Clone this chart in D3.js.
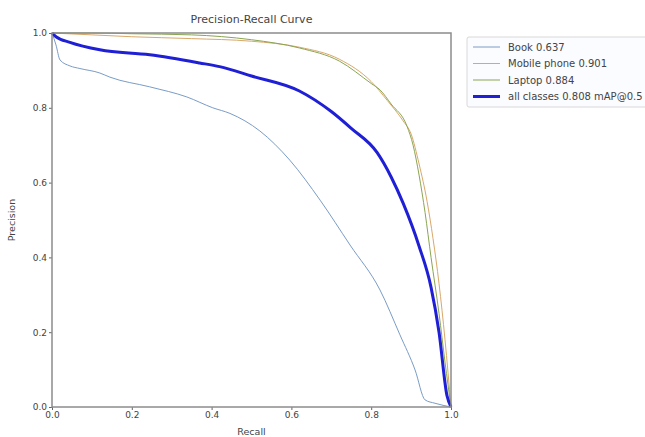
<!DOCTYPE html>
<html>
<head>
<meta charset="utf-8">
<script src="https://cdn.jsdelivr.net/npm/d3@7/dist/d3.min.js"></script>
<style>
  body { margin: 0; background: #fff; }
  text { font-family: "DejaVu Sans", sans-serif; fill: #444; }
</style>
</head>
<body>
<div id="chart"></div>
<script>
// recall / precision pairs
var bookRecall    = [0, 0.01, 0.02, 0.045, 0.07, 0.12, 0.145, 0.245, 0.338, 0.403, 0.446, 0.521, 0.596, 0.672, 0.747, 0.822, 0.872, 0.91, 0.935, 0.96, 1.0];
var bookPrecision = [1, 0.968, 0.928, 0.912, 0.905, 0.893, 0.882, 0.856, 0.829, 0.80, 0.785, 0.738, 0.66, 0.553, 0.433, 0.313, 0.193, 0.099, 0.019, 0.01, 0.0];

var phoneRecall    = [0, 0.1, 0.2, 0.35, 0.5, 0.62, 0.72, 0.8, 0.84, 0.88, 0.9, 0.92, 0.94, 0.955, 0.97, 0.985, 1.0];
var phonePrecision = [1, 0.995, 0.99, 0.985, 0.978, 0.962, 0.93, 0.87, 0.82, 0.765, 0.73, 0.65, 0.55, 0.45, 0.33, 0.18, 0.0];

var laptopRecall    = [0, 0.1, 0.2, 0.35, 0.5, 0.62, 0.72, 0.8, 0.822, 0.85, 0.89, 0.905, 0.92, 0.935, 0.95, 0.97, 0.985, 1.0];
var laptopPrecision = [1, 1.0, 0.998, 0.995, 0.982, 0.96, 0.925, 0.865, 0.848, 0.81, 0.75, 0.70, 0.62, 0.52, 0.40, 0.25, 0.12, 0.0];

var allRecall    = [0, 0.01, 0.045, 0.12, 0.245, 0.37, 0.42, 0.5, 0.62, 0.7, 0.75, 0.815, 0.85, 0.88, 0.92, 0.95, 0.97, 0.99, 1.0];
var allPrecision = [1, 0.99, 0.975, 0.955, 0.942, 0.92, 0.91, 0.885, 0.845, 0.79, 0.745, 0.68, 0.615, 0.545, 0.43, 0.32, 0.2, 0.03, 0.0];

var seriesNames  = ['Book 0.637', 'Mobile phone 0.901', 'Laptop 0.884', 'all classes 0.808 mAP@0.5'];
var seriesColors = ['#7a9cc6', '#d9a86a', '#8aa553', '#1f1fd6'];
var tickValues = [0, 0.2, 0.4, 0.6, 0.8, 1.0];

var width = 645, height = 437;
var margin = { top: 33, right: 194, bottom: 30, left: 52 };
var plotW = width - margin.left - margin.right;
var plotH = height - margin.top - margin.bottom;

var svg = d3.select('#chart')
    .append('svg')
    .attr('width', width)
    .attr('height', height);

var g = svg.append('g')
    .attr('transform', 'translate(' + margin.left + ',' + margin.top + ')');

var xScale = d3.scaleLinear().domain([0, 1]).range([0, plotW]);
var yScale = d3.scaleLinear().domain([0, 1]).range([plotH, 0]);

// axes
var xAxis = d3.axisBottom(xScale).tickValues(tickValues).tickFormat(d3.format('.1f')).tickSizeInner(3).tickSizeOuter(0).tickPadding(2);
var yAxis = d3.axisLeft(yScale).tickValues(tickValues).tickFormat(d3.format('.1f')).tickSizeInner(3).tickSizeOuter(0).tickPadding(2);

var gx = g.append('g').attr('transform', 'translate(0,' + plotH + ')').call(xAxis);
var gy = g.append('g').call(yAxis);
[gx, gy].forEach(function(a) {
    a.select('.domain').remove();
    a.selectAll('line').attr('stroke', '#666');
    a.selectAll('text').style('font-size', '9px').attr('fill', '#444');
});

// curves
var series = [
    { x: bookRecall, y: bookPrecision, w: 1 },
    { x: phoneRecall, y: phonePrecision, w: 1 },
    { x: laptopRecall, y: laptopPrecision, w: 1 },
    { x: allRecall, y: allPrecision, w: 3 }
];

var line = d3.line()
    .x(function(d) { return xScale(d[0]); })
    .y(function(d) { return yScale(d[1]); })
    .curve(d3.curveMonotoneX);

series.forEach(function(s, i) {
    var pts = s.x.map(function(r, j) { return [r, s.y[j]]; });
    g.append('path')
        .attr('d', line(pts))
        .attr('fill', 'none')
        .attr('stroke', seriesColors[i])
        .attr('stroke-width', s.w);
});

// frame
g.append('rect')
    .attr('width', plotW)
    .attr('height', plotH)
    .attr('fill', 'none')
    .attr('stroke', '#8c8c8c')
    .attr('stroke-width', 1.5);

// titles
svg.append('text')
    .attr('x', margin.left + plotW / 2)
    .attr('y', 23)
    .attr('text-anchor', 'middle')
    .style('font-size', '11px')
    .text('Precision-Recall Curve');

svg.append('text')
    .attr('x', margin.left + plotW / 2)
    .attr('y', 435)
    .attr('text-anchor', 'middle')
    .style('font-size', '9.5px')
    .text('Recall');

svg.append('text')
    .attr('transform', 'translate(15,' + (margin.top + plotH / 2) + ') rotate(-90)')
    .attr('text-anchor', 'middle')
    .style('font-size', '9.5px')
    .text('Precision');

// legend
var legend = svg.append('g').attr('transform', 'translate(467,37)');
legend.append('rect')
    .attr('width', 200)
    .attr('height', 70)
    .attr('rx', 2)
    .attr('fill', '#fbfcff')
    .attr('stroke', '#d8d8d8');

seriesNames.forEach(function(name, i) {
    var yy = 10 + i * 16.5;
    legend.append('line')
        .attr('x1', 6).attr('x2', 33)
        .attr('y1', yy).attr('y2', yy)
        .attr('stroke', seriesColors[i])
        .attr('stroke-width', series[i].w);
    legend.append('text')
        .attr('x', 41)
        .attr('y', yy + 3.5)
        .style('font-size', '10px')
        .text(name);
});
</script>
</body>
</html>
